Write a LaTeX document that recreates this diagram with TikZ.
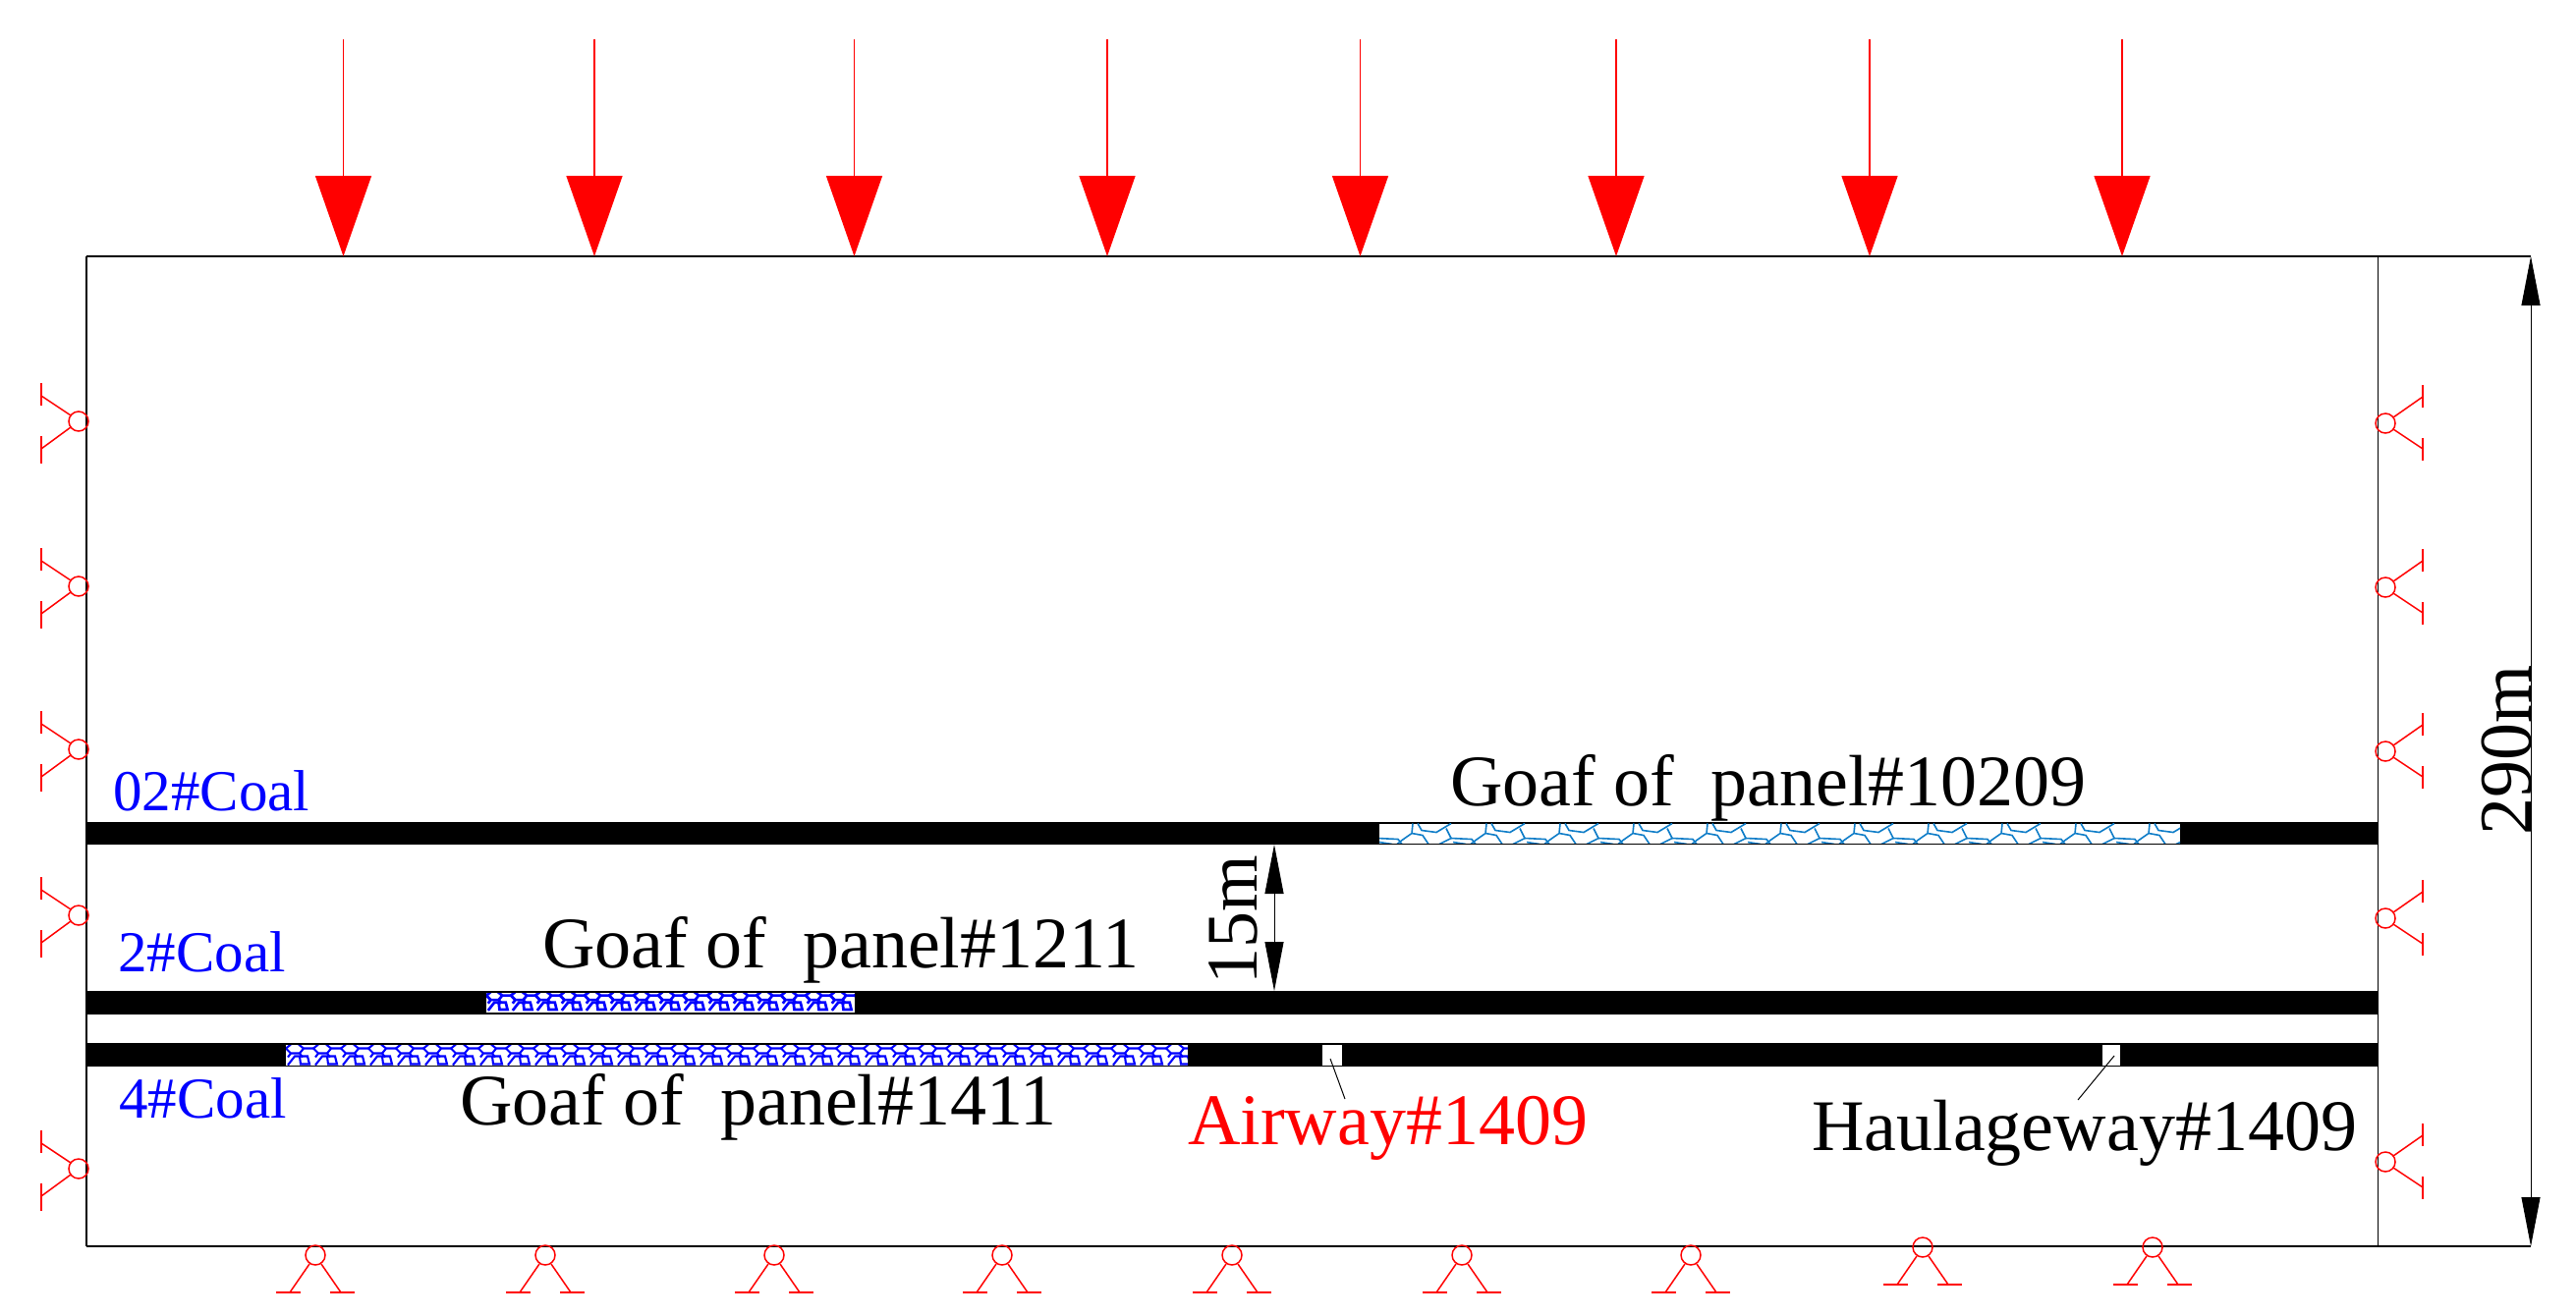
\documentclass[tikz,border=0pt]{standalone}
\usepackage{fontspec}
\setmainfont{Liberation Serif}
\usetikzlibrary{arrows.meta, positioning}

\definecolor{goafblue}{RGB}{15,125,200}

\begin{document}
\begin{tikzpicture} [
    x=1pt, y=-1pt,
    big label/.style={inner sep=0pt, anchor=base west, font=\fontsize{74}{74}\selectfont},
    coal label/.style={inner sep=0pt, anchor=base west, text=blue, font=\fontsize{59}{59}\selectfont},
    load edge/.style={draw, red, line width=1.5pt, -{Triangle[width=57pt, length=82pt]}},
    dim edge/.style={draw, line width=1pt, {Triangle[width=19pt, length=50pt]}-{Triangle[width=19pt, length=50pt]}},
    leader edge/.style={draw, line width=1pt},
    seam/.style={fill=black},
    goaf/.style={fill=white},
    prop/.style={draw, red, line width=1.5pt},
    left support/.pic={
      \draw[prop] (0,0) circle (10);
      \draw[prop] (-8,-6) -- (-38,-26);
      \draw[prop] (-8,6) -- (-38,28);
      \draw[prop] (-38,-39) -- (-38,-16);
      \draw[prop] (-38,15) -- (-38,43);
    },
    right support/.pic={
      \draw[prop] (0,0) circle (10);
      \draw[prop] (8,-6) -- (38,-27);
      \draw[prop] (8,6) -- (38,26);
      \draw[prop] (38,-39) -- (38,-16);
      \draw[prop] (38,15) -- (38,38);
    },
    bottom support/.pic={
      \draw[prop] (0,0) circle (10);
      \draw[prop] (-6,9) -- (-26,38);
      \draw[prop] (6,9) -- (26,38);
      \draw[prop] (-40,38) -- (-15,38);
      \draw[prop] (15,38) -- (40,38);
    },
    dense tile/.pic={
      \draw[blue] (0,4) -- (5,0) (0,4) -- (5,9) -- (14,9) -- (18,4) -- (13,0) (18,4) -- (28,4) (5,9) -- (2,13) (14,9) -- (17,13);
      \draw[blue] (2,21) -- (9,12) -- (22,12) -- (24,20) -- (15,20) -- (14,12);
    },
    light tile/.pic={
      \draw[goafblue, line width=1.6pt] (34,0) -- (33,10) -- (23,17) -- (18,21) (33,10) -- (44,12) -- (50,21);
      \draw[goafblue, line width=1.6pt] (39,0) -- (43,7) -- (58,9) -- (73,0) (68,5) -- (73,15) -- (61,21);
      \draw[goafblue, line width=1.6pt] (73,15) -- (94,16) -- (98,21) (75,19) -- (88,21);
    }
  ]

  \useasboundingbox[fill=white] (0,0) rectangle (2622,1339);

  % Coal seams
  \fill[seam] (88,837) rectangle (2420,860);
  \fill[seam] (88,1009) rectangle (2420,1033);
  \fill[seam] (88,1062) rectangle (2420,1086);

  % Goaf of 10209
  \fill[goaf] (1404,838.5) rectangle (2219,858.5);
  \begin{scope}
    \clip (1404,838.5) rectangle (2219,858.5);
    \foreach \i in {-1,...,11} {
      \pic at ({1404+\i*75},838.5) {light tile};
    }
  \end{scope}

  % Goaf of 1211
  \fill[goaf] (495,1011) rectangle (870,1031);
  \begin{scope}
    \clip (495,1011) rectangle (870,1031);
    \foreach \i in {0,...,15} {
      \pic[scale=0.9, line width=2.7pt] at ({495+\i*25},1010) {dense tile};
    }
  \end{scope}

  % Goaf of 1411
  \fill[goaf] (291,1064) rectangle (1209,1085);
  \begin{scope}
    \clip (291,1064) rectangle (1209,1085);
    \foreach \i in {0,...,33} {
      \pic[line width=2.1pt] at ({291+\i*28},1063.5) {dense tile};
    }
  \end{scope}

  % Roadways
  \fill[goaf] (1346,1064) rectangle (1366,1085);
  \fill[goaf] (2140,1064) rectangle (2158,1085);

  % Model frame
  \coordinate (FRAMENW) at (88,261);
  \coordinate (FRAMESE) at (2420,1269);
  \coordinate (FRAMESW) at (88,1269);
  \coordinate (FRAMENE) at (2420,261);
  \coordinate (DIMTOP) at (2576,261);
  \coordinate (DIMBOTTOM) at (2576,1269);
  \draw[line width=1.2pt] (FRAMESW) -- (FRAMENW);
  \draw[line width=1pt] (FRAMENE) -- (FRAMESE);
  \draw[line width=2pt] (FRAMENW) -- (DIMTOP);
  \draw[line width=2pt] (FRAMESW) -- (DIMBOTTOM);

  % Loads on top
  \coordinate (LOADA) at (349.5,40);
  \coordinate (LOADB) at (605,40);
  \coordinate (LOADC) at (869.5,40);
  \coordinate (LOADD) at (1127,40);
  \coordinate (LOADE) at (1384.5,40);
  \coordinate (LOADF) at (1645,40);
  \coordinate (LOADG) at (1903,40);
  \coordinate (LOADH) at (2160,40);
  \coordinate (TIPA) at (349.5,261);
  \coordinate (TIPB) at (605,261);
  \coordinate (TIPC) at (869.5,261);
  \coordinate (TIPD) at (1127,261);
  \coordinate (TIPE) at (1384.5,261);
  \coordinate (TIPF) at (1645,261);
  \coordinate (TIPG) at (1903,261);
  \coordinate (TIPH) at (2160,261);
  \path (LOADA) edge[load edge] (TIPA);
  \path (LOADB) edge[load edge] (TIPB);
  \path (LOADC) edge[load edge] (TIPC);
  \path (LOADD) edge[load edge] (TIPD);
  \path (LOADE) edge[load edge] (TIPE);
  \path (LOADF) edge[load edge] (TIPF);
  \path (LOADG) edge[load edge] (TIPG);
  \path (LOADH) edge[load edge] (TIPH);

  % Left supports
  \pic at (80,429) {left support};
  \pic at (80,597) {left support};
  \pic at (80,763) {left support};
  \pic at (80,932) {left support};
  \pic at (80,1190) {left support};

  % Right supports
  \pic at (2428,431) {right support};
  \pic at (2428,598) {right support};
  \pic at (2428,765) {right support};
  \pic at (2428,935) {right support};
  \pic at (2428,1183) {right support};

  % Bottom supports
  \pic at (321,1278) {bottom support};
  \pic at (555,1278) {bottom support};
  \pic at (788,1278) {bottom support};
  \pic at (1020,1278) {bottom support};
  \pic at (1254,1278) {bottom support};
  \pic at (1488,1278) {bottom support};
  \pic at (1721,1278) {bottom support};
  \pic at (1957,1270) {bottom support};
  \pic at (2191,1270) {bottom support};

  % Labels
  \node (COALA) [coal label] at (115,825) {02\#Coal};
  \node (COALB) [coal label] at (120,989) {2\#Coal};
  \node (COALC) [coal label] at (121,1138) {4\#Coal};
  \node (GOAFA) [big label] at (1476,820) {Goaf of\ \ panel\#10209};
  \node (GOAFB) [big label] at (552,985) {Goaf of\ \ panel\#1211};
  \node (GOAFC) [big label] at (468,1145) {Goaf of\ \ panel\#1411};
  \node (AIRWAY) [big label, text=red] at (1209,1165) {Airway\#1409};
  \node (HAUL) [big label] at (1844,1171) {Haulageway\#1409};
  \node (DIMA) [big label, rotate=90] at (1279,1003) {15m};
  \node (DIMB) [big label, rotate=90, font=\fontsize{76}{76}\selectfont] at (2576,851) {290m};

  % Leaders and dimensions
  \coordinate (AIRTOP) at (1354,1078);
  \coordinate (AIRFOOT) at (1369,1119);
  \coordinate (HAULTOP) at (2152,1075);
  \coordinate (HAULFOOT) at (2115,1120);
  \coordinate (GAPTOP) at (1297,860);
  \coordinate (GAPBOTTOM) at (1297,1009);
  \path (AIRTOP) edge[leader edge] (AIRFOOT);
  \path (HAULTOP) edge[leader edge] (HAULFOOT);
  \path (GAPTOP) edge[dim edge] (GAPBOTTOM);
  \path (DIMTOP) edge[dim edge] (DIMBOTTOM);

\end{tikzpicture}
\end{document}
